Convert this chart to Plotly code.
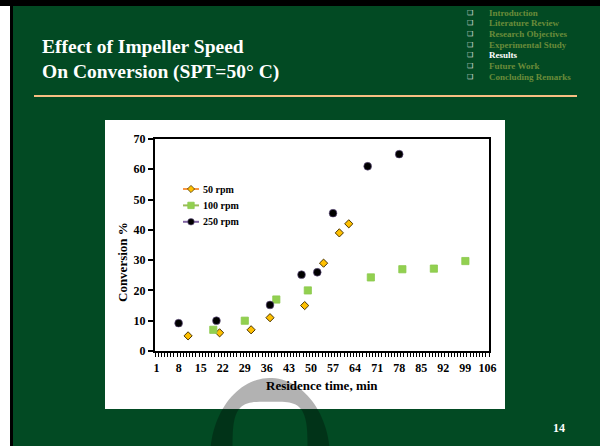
import numpy as np
import plotly.graph_objects as go

# ---------------- data ----------------
categories = list(range(1, 107))          # Excel category axis 1..106
x_50 = [11, 21, 31, 37, 48, 54, 59, 62]
y_50 = [5.0, 6.0, 7.0, 11.0, 15.0, 29.0, 39.0, 42.0]
x_100 = [19, 29, 39, 49, 69, 79, 89, 99]
y_100 = [7.0, 10.0, 17.0, 20.0, 24.3, 27.0, 27.2, 29.7]
x_250 = [8, 20, 37, 47, 52, 57, 68, 78]
y_250 = [9.2, 10.0, 15.2, 25.2, 26.0, 45.5, 61.0, 65.0]
x_tick_labels = [1, 8, 15, 22, 29, 36, 43, 50, 57, 64, 71, 78, 85, 92, 99, 106]
y_tick_labels = [0, 10, 20, 30, 40, 50, 60, 70]
series_names = ["50 rpm", "100 rpm", "250 rpm"]
menu_items = ["Introduction", "Literature Review", "Research Objectives",
              "Experimental Study", "Results", "Future Work", "Concluding Remarks"]
title_lines = ["Effect of Impeller Speed", "On Conversion (SPT=50° C)"]

W, H = 600, 446
def px(x):
    return x / W
def py(y):
    return 1 - y / H

def on_categories(xs, ys):
    d = dict(zip(xs, ys))
    return [d.get(c) for c in categories]

GREEN_BG = "#024a23"
SERIF = "Liberation Serif"

styles = [
    dict(line=dict(color="#F79646", width=2),
         marker=dict(symbol="diamond", size=6.3, color="#FFC000", line=dict(color="#4a3500", width=1))),
    dict(line=dict(color="#9BBB59", width=2),
         marker=dict(symbol="square", size=7.2, color="#92D050", line=dict(color="#8cc94c", width=0.8))),
    dict(line=dict(color="#8064A2", width=2),
         marker=dict(symbol="circle", size=7.8, color="#000000", line=dict(color="#6f5a90", width=0.6))),
]

fig = go.Figure()
for name, (xs, ys), st in zip(series_names, [(x_50, y_50), (x_100, y_100), (x_250, y_250)], styles):
    fig.add_trace(go.Scatter(x=categories, y=on_categories(xs, ys), name=name,
                             mode="lines+markers", connectgaps=False, showlegend=False, **st))

# ---------------- decorative shapes ----------------
shapes = []
def rect(x0, y0, x1, y1, color, layer="below"):
    shapes.append(dict(type="rect", xref="paper", yref="paper", layer=layer,
                       x0=px(x0), x1=px(x1), y0=py(y1), y1=py(y0),
                       fillcolor=color, line=dict(width=0)))

rect(105, 120, 505, 409, "white")          # chart area
rect(0, 0, 10, H, "white")                 # slide edge
rect(10, 0, 13, H, "black")
rect(0, 0, W, 6, "black")
shapes.append(dict(type="line", xref="paper", yref="paper", layer="below",
                   x0=px(34), x1=px(577), y0=py(96), y1=py(96),
                   line=dict(color="#F7BE82", width=2)))

# watermark ring (semi-transparent)
cx, cy = 270, 458
t = np.linspace(0, 2 * np.pi, 120)
ox = cx + 60 * np.cos(t)
oy = cy + 80 * np.sin(t)
n = 4.2
ix = cx + 37.5 * np.sign(np.cos(t)) * np.abs(np.cos(t)) ** (2 / n)
iy = cy + 56.3 * np.sign(np.sin(t)) * np.abs(np.sin(t)) ** (2 / n)
path = "M " + " L ".join(f"{px(a):.5f},{py(b):.5f}" for a, b in zip(ox, oy)) + " Z "
path += "M " + " L ".join(f"{px(a):.5f},{py(b):.5f}" for a, b in zip(ix[::-1], iy[::-1])) + " Z"
shapes.append(dict(type="path", xref="paper", yref="paper", layer="above", path=path,
                   fillcolor="rgba(0,0,0,0.3)", line=dict(width=0)))

# ---------------- legend (drawn manually, Excel-like compact) ----------------
ann = []
legend_x0, legend_y0, legend_dy = 183, 189, 16.4
for i, (name, st) in enumerate(zip(series_names, styles)):
    yy = legend_y0 + legend_dy * i
    shapes.append(dict(type="line", xref="paper", yref="paper", layer="above",
                       x0=px(legend_x0), x1=px(legend_x0 + 16), y0=py(yy), y1=py(yy),
                       line=dict(color=st["line"]["color"], width=2)))
    mx = legend_x0 + 8
    m = st["marker"]
    if m["symbol"] == "diamond":
        r = 3.6
        p = f"M {px(mx-r)},{py(yy)} L {px(mx)},{py(yy-r)} L {px(mx+r)},{py(yy)} L {px(mx)},{py(yy+r)} Z"
        shapes.append(dict(type="path", xref="paper", yref="paper", layer="above", path=p,
                           fillcolor=m["color"], line=dict(color=m["line"]["color"], width=0.8)))
    elif m["symbol"] == "square":
        r = 3.2
        shapes.append(dict(type="rect", xref="paper", yref="paper", layer="above",
                           x0=px(mx - r), x1=px(mx + r), y0=py(yy + r), y1=py(yy - r),
                           fillcolor=m["color"], line=dict(color=m["line"]["color"], width=0.8)))
    else:
        r = 3.3
        shapes.append(dict(type="circle", xref="paper", yref="paper", layer="above",
                           x0=px(mx - r), x1=px(mx + r), y0=py(yy + r), y1=py(yy - r),
                           fillcolor=m["color"], line=dict(color=m["line"]["color"], width=0.6)))
    ann.append(dict(text=name, xref="paper", yref="paper", x=px(legend_x0 + 17.5), y=py(yy),
                    xanchor="left", yanchor="middle", showarrow=False,
                    font=dict(family=SERIF, size=10, color="black", weight="bold")))

# ---------------- annotations ----------------
for i, line in enumerate(title_lines):
    ann.append(dict(text=line, xref="paper", yref="paper", x=px(40), y=py(47 + 25 * i),
                    xanchor="left", yanchor="middle", showarrow=False,
                    font=dict(family=SERIF, size=19.5, color="white", weight="bold")))
for i, item in enumerate(menu_items):
    yy = 12.5 + 10.7 * i
    col = "white" if item == "Results" else "#6a8c3a"
    ann.append(dict(text="❑", xref="paper", yref="paper", x=px(470), y=py(yy),
                    xanchor="center", yanchor="middle", showarrow=False,
                    font=dict(family="DejaVu Sans", size=7, color="#e6e6e6")))
    ann.append(dict(text=item, xref="paper", yref="paper", x=px(487), y=py(yy),
                    xanchor="left", yanchor="middle", showarrow=False,
                    font=dict(family=SERIF, size=9, color=col, weight="bold")))
ann.append(dict(text="Residence time, min", xref="paper", yref="paper", x=px(322), y=py(385),
                xanchor="center", yanchor="middle", showarrow=False,
                font=dict(family=SERIF, size=13, color="black", weight="bold")))
ann.append(dict(text="Conversion %", xref="paper", yref="paper", x=px(122), y=py(262),
                xanchor="center", yanchor="middle", showarrow=False, textangle=-90,
                font=dict(family=SERIF, size=13, color="black", weight="bold")))
ann.append(dict(text="14", xref="paper", yref="paper", x=px(559), y=py(428),
                xanchor="center", yanchor="middle", showarrow=False,
                font=dict(family=SERIF, size=12, color="white", weight="bold")))

fig.update_layout(
    width=W, height=H, margin=dict(l=0, r=0, t=0, b=0, autoexpand=False),
    paper_bgcolor=GREEN_BG, plot_bgcolor="white",
    shapes=shapes, annotations=ann,
    showlegend=False,
    xaxis=dict(domain=[px(155), px(489)], range=[0.5, 106.5], automargin=False,
               tickmode="array", tickvals=x_tick_labels, ticktext=[str(v) for v in x_tick_labels],
               ticks="outside", ticklen=5, tickcolor="rgba(0,0,0,0)",
               minor=dict(tickmode="linear", tick0=0.5, dtick=1, ticks="outside",
                          ticklen=4, tickwidth=1, tickcolor="black", showgrid=False),
               showline=True, linewidth=2, linecolor="black", mirror=True,
               showgrid=False, zeroline=False,
               tickfont=dict(family=SERIF, size=12, color="black", weight="bold")),
    yaxis=dict(domain=[py(351), py(139)], range=[0, 70], automargin=False,
               tickmode="array", tickvals=y_tick_labels,
               ticks="outside", ticklen=5, tickwidth=1.5, tickcolor="black",
               showline=True, linewidth=2, linecolor="black", mirror=True,
               showgrid=False, zeroline=False,
               tickfont=dict(family=SERIF, size=12, color="black", weight="bold")),
)

fig.write_html("out.html")
